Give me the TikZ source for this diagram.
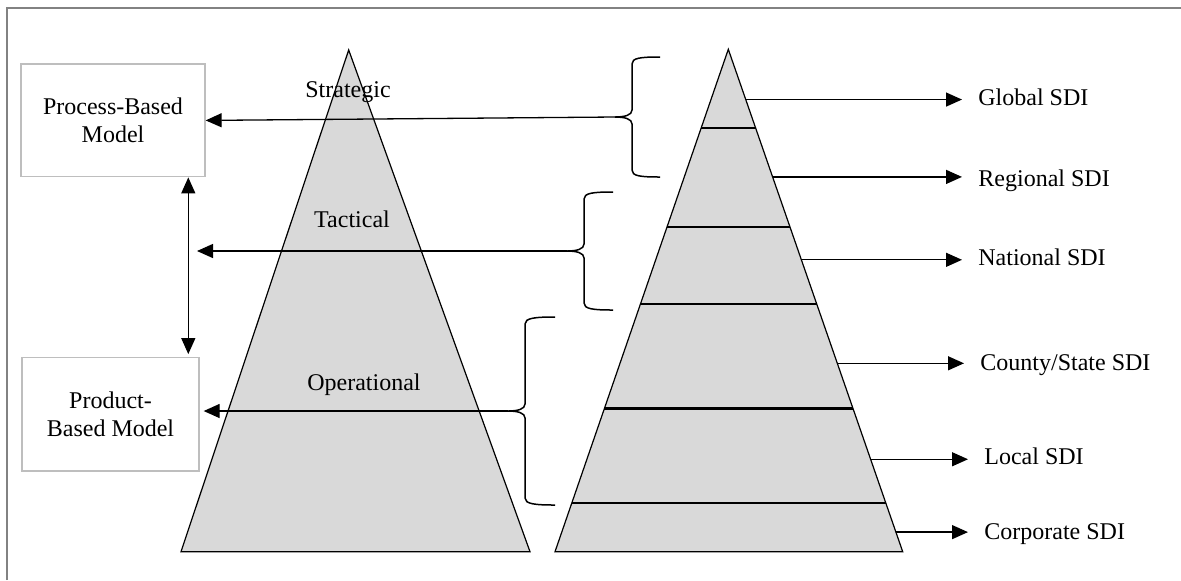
\documentclass[tikz,border=0pt]{standalone}
\usepackage{fontspec}
\setmainfont{Liberation Serif}
\usepackage{xcolor}
\usetikzlibrary{arrows.meta,calc,positioning}
\definecolor{pyrgrey}{RGB}{217,217,217}
\definecolor{boxgrey}{RGB}{190,190,190}
\definecolor{framegrey}{RGB}{130,130,130}
\tikzset{font={\fontsize{12pt}{13.85pt}\selectfont}}
\tikzset{
  modelbox/.style={draw=boxgrey, line width=0.65pt, align=center, inner sep=0pt},
  lvl/.style={anchor=base, inner sep=0pt},
  sdilabel/.style={anchor=base west, inner sep=0pt},
  arr/.style={line width=0.65pt, >={Triangle[length=8pt,width=7pt]}},
  sdibrace/.style={line width=0.75pt},
  pyr/.style={draw, fill=pyrgrey, line width=0.6pt},
  tier/.style={line width=1.1pt}
}

\begin{document}
\begin{tikzpicture}[x=0.5pt,y=-0.5pt]
\useasboundingbox (0,0) rectangle (1181,580);

%frame
\draw[framegrey, line width=1pt] (6.5,580) -- (6.5,8) -- (1181,8);

%pyramids
\coordinate (lapex) at (348.7,50);
\coordinate (lbase1) at (181,551.7);
\coordinate (lbase2) at (530,551.7);
\draw[pyr] (lapex) -- (lbase2) -- (lbase1) -- cycle;

\coordinate (rapex) at (728.3,49.3);
\coordinate (rbase1) at (555,551.7);
\coordinate (rbase2) at (902.7,551.7);
\draw[pyr] (rapex) -- (rbase2) -- (rbase1) -- cycle;

%tiers of the sdi pyramid
\foreach \t in {0.157,0.354,0.507,0.715,0.903}
  \draw[tier] ($(rapex)!\t!(rbase1)$) -- ($(rapex)!\t!(rbase2)$);

%levels
\node[lvl] (strat) at (348,97) {Strategic};
\node[lvl] (tact) at (352,227) {Tactical};
\node[lvl] (oper) at (364,390) {Operational};

%models
\node[modelbox, minimum width=92pt, minimum height=56.35pt] (proc) at (113,120.4) {Process-Based\\Model};
\node[modelbox, minimum width=88.5pt, minimum height=56.65pt] (prod) at (110.5,414.4) {Product-\\Based Model};
\coordinate (link) at (188.3,0);
\draw[arr,<->,shorten >=1.5pt] (proc.south -| link) -- (prod.north -| link);

%braces
\draw[sdibrace] (660,57) .. controls +(-20,0) and +(0,-6) .. ++(-28,7) -- ++(0,46)
  .. controls +(0,5) and +(10,0) .. ++(-17,7) coordinate (b1tip)
  .. controls +(10,0) and +(0,-5) .. ++(17,7) -- ++(0,46)
  .. controls +(0,6) and +(-20,0) .. ++(28,7);
\draw[sdibrace] (613,192) .. controls +(-20,0) and +(0,-6) .. ++(-29,7) -- ++(0,45)
  .. controls +(0,5) and +(10,0) .. ++(-17,7) coordinate (b2tip)
  .. controls +(10,0) and +(0,-5) .. ++(17,7) -- ++(0,45)
  .. controls +(0,6) and +(-20,0) .. ++(29,7);
\draw[sdibrace] (555,317) .. controls +(-20,0) and +(0,-6) .. ++(-30,7) -- ++(0,80)
  .. controls +(0,5) and +(10,0) .. ++(-17,7) coordinate (b3tip)
  .. controls +(10,0) and +(0,-5) .. ++(17,7) -- ++(0,80)
  .. controls +(0,6) and +(-20,0) .. ++(30,7);

%arrows to the models
\coordinate (tactend) at (197,251);
\draw[arr,->] (b1tip) -- (proc.east);
\draw[arr,->] (b2tip) -- (tactend);
\draw[arr,->,shorten >=2pt] (b3tip) -- (b3tip -| prod.east);

%sdi levels
\node[sdilabel] (glob) at (978,105) {Global SDI};
\node[sdilabel] (regi) at (978,186) {Regional SDI};
\node[sdilabel] (nati) at (978,265) {National SDI};
\node[sdilabel] (coun) at (980,370.7) {County/State SDI};
\node[sdilabel] (loca) at (984,464) {Local SDI};
\node[sdilabel] (corp) at (984,539.3) {Corporate SDI};

\foreach \t/\n in {0.1/glob,0.254/regi,0.419/nati,0.625/coun,0.816/loca,0.961/corp}{
  \path ($(rapex)!\t!(rbase2)$) coordinate (s);
  \draw[arr,->,shorten >=8pt] (s) -- (s -| \n.west);
}

\end{tikzpicture}
\end{document}
